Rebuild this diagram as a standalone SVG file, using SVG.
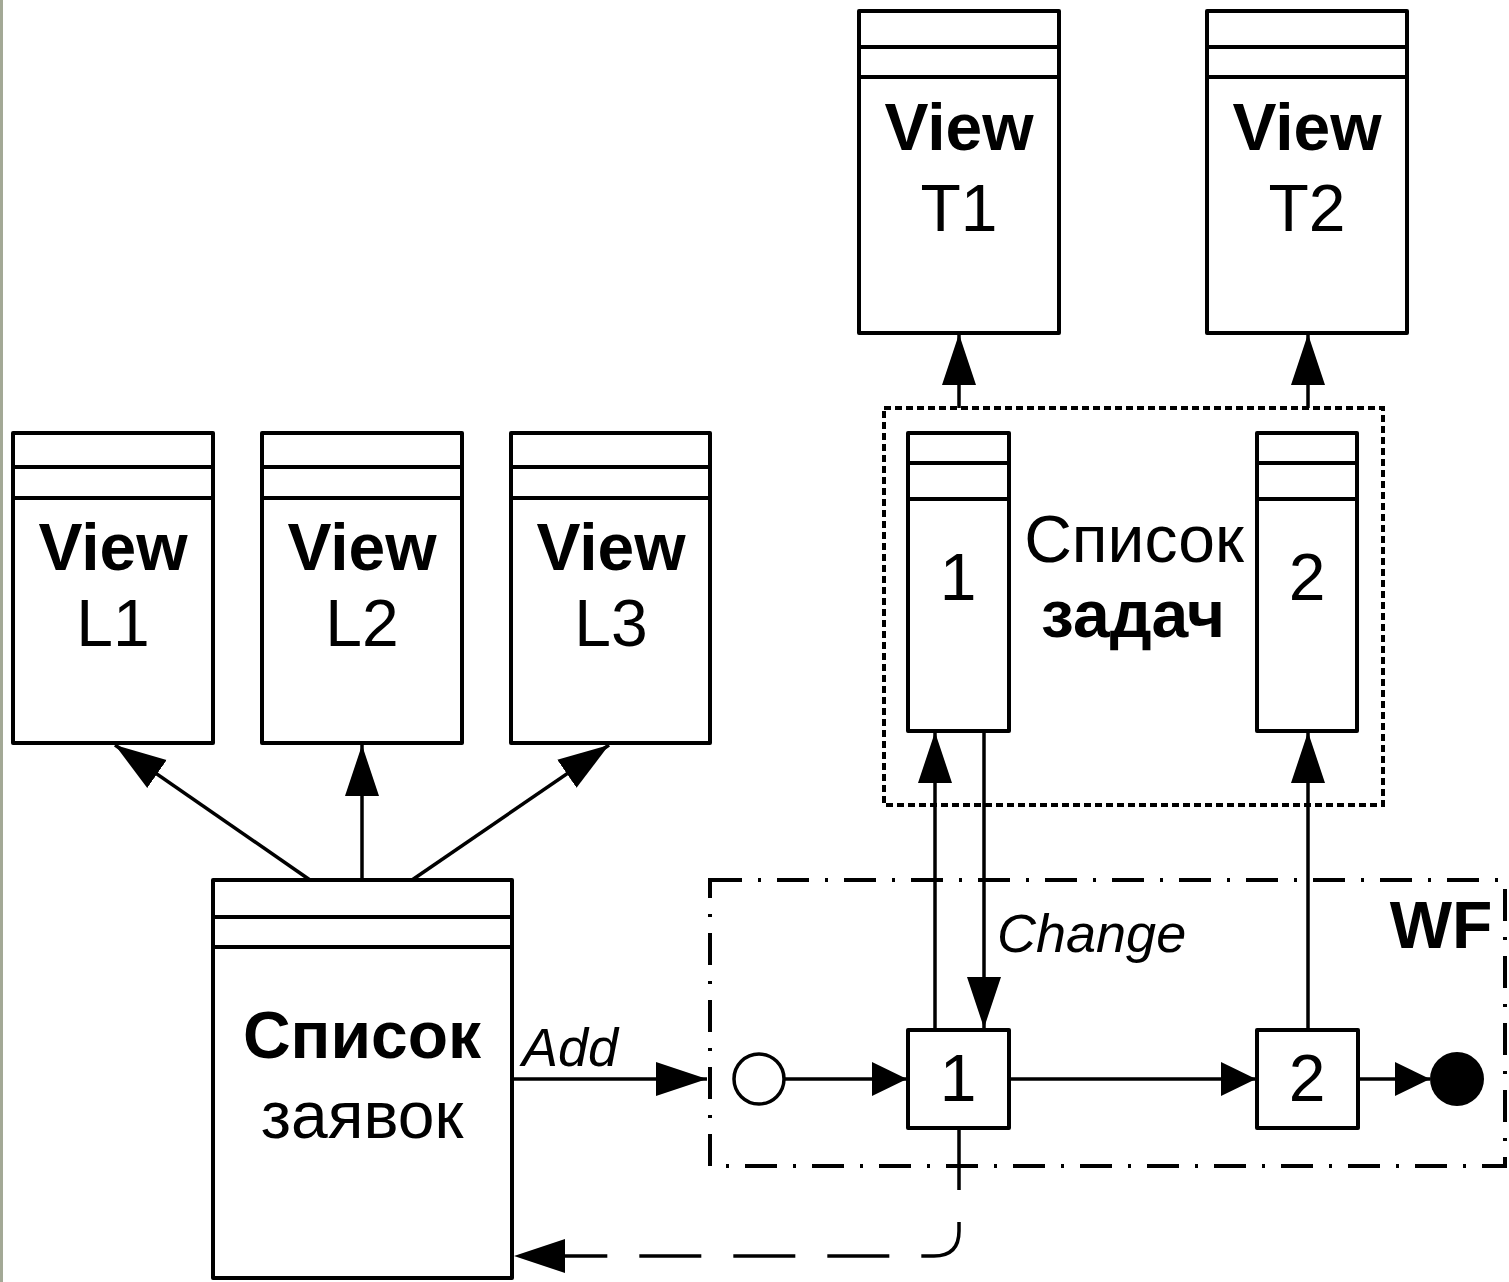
<svg xmlns="http://www.w3.org/2000/svg" width="1509" height="1282" viewBox="0 0 1509 1282">
<defs>
<style>
.box{fill:#fff;stroke:#000;stroke-width:4;stroke-linejoin:round}
.ln{fill:none;stroke:#000;stroke-width:4}
.con{fill:none;stroke:#000;stroke-width:3.5}
.t{font-family:"Liberation Sans",Arial,sans-serif;font-size:66px;fill:#000;text-anchor:middle}
.b{font-weight:bold}
.it{font-family:"Liberation Sans",Arial,sans-serif;font-style:italic;font-size:54px;fill:#000}
</style>
<marker id="big" markerUnits="userSpaceOnUse" markerWidth="52" markerHeight="36" refX="51" refY="17" orient="auto" viewBox="0 0 52 34">
<path d="M0,0 L51,17 L0,34 z" fill="#000"/>
</marker>
<marker id="small" markerUnits="userSpaceOnUse" markerWidth="36" markerHeight="36" refX="35" refY="17" orient="auto" viewBox="0 0 36 34">
<path d="M0,0 L35,17 L0,34 z" fill="#000"/>
</marker>
</defs>
<rect x="0" y="0" width="1509" height="1282" fill="#fff"/>
<rect x="0" y="0" width="3" height="1282" fill="#a3a996"/>

<g id="connectors">
<line class="con" x1="959" y1="408" x2="959" y2="334" marker-end="url(#big)"/>
<line class="con" x1="1308" y1="408" x2="1308" y2="334" marker-end="url(#big)"/>
<line class="con" x1="310" y1="880" x2="115" y2="745" marker-end="url(#big)"/>
<line class="con" x1="362" y1="880" x2="362" y2="745" marker-end="url(#big)"/>
<line class="con" x1="412" y1="880" x2="609" y2="745" marker-end="url(#big)"/>
<line class="con" x1="935" y1="1030" x2="935" y2="732" marker-end="url(#big)"/>
<line class="con" x1="984" y1="731" x2="984" y2="1028" marker-end="url(#big)"/>
<line class="con" x1="1308" y1="1030" x2="1308" y2="732" marker-end="url(#big)"/>
<line class="con" x1="512" y1="1079" x2="707" y2="1079" marker-end="url(#big)"/>
<line class="con" x1="785" y1="1079" x2="907" y2="1079" marker-end="url(#small)"/>
<line class="con" x1="1009" y1="1079" x2="1256" y2="1079" marker-end="url(#small)"/>
<line class="con" x1="1358" y1="1079" x2="1430" y2="1079" marker-end="url(#small)"/>
<path class="con" d="M959,1128 V1231 Q959,1256 934,1256 H514" stroke-dasharray="62 32" marker-end="url(#big)"/>
<text class="it" x="997" y="952">Change</text>
<text class="it" x="522" y="1066">Add</text>
</g>

<g id="view-t1">
<rect class="box" x="859" y="11" width="200" height="322"/>
<line class="ln" x1="859" y1="47" x2="1059" y2="47"/>
<line class="ln" x1="859" y1="77" x2="1059" y2="77"/>
<text class="t b" x="959" y="150">View</text>
<text class="t" x="959" y="231">T1</text>
</g>
<g id="view-t2">
<rect class="box" x="1207" y="11" width="200" height="322"/>
<line class="ln" x1="1207" y1="47" x2="1407" y2="47"/>
<line class="ln" x1="1207" y1="77" x2="1407" y2="77"/>
<text class="t b" x="1307" y="150">View</text>
<text class="t" x="1307" y="231">T2</text>
</g>

<g id="view-l1">
<rect class="box" x="13" y="433" width="200" height="310"/>
<line class="ln" x1="13" y1="467" x2="213" y2="467"/>
<line class="ln" x1="13" y1="498" x2="213" y2="498"/>
<text class="t b" x="113" y="570">View</text>
<text class="t" x="113" y="646">L1</text>
</g>
<g id="view-l2">
<rect class="box" x="262" y="433" width="200" height="310"/>
<line class="ln" x1="262" y1="467" x2="462" y2="467"/>
<line class="ln" x1="262" y1="498" x2="462" y2="498"/>
<text class="t b" x="362" y="570">View</text>
<text class="t" x="362" y="646">L2</text>
</g>
<g id="view-l3">
<rect class="box" x="511" y="433" width="199" height="310"/>
<line class="ln" x1="511" y1="467" x2="710" y2="467"/>
<line class="ln" x1="511" y1="498" x2="710" y2="498"/>
<text class="t b" x="611" y="570">View</text>
<text class="t" x="611" y="646">L3</text>
</g>

<g id="spisok-zayavok">
<rect class="box" x="213" y="880" width="299" height="398"/>
<line class="ln" x1="213" y1="917" x2="512" y2="917"/>
<line class="ln" x1="213" y1="947" x2="512" y2="947"/>
<text class="t b" x="362" y="1058" font-size="64">Список</text>
<text class="t" x="362" y="1138" font-size="64">заявок</text>
</g>

<g id="spisok-zadach">
<rect x="884" y="408" width="499" height="397" fill="none" stroke="#000" stroke-width="4" stroke-dasharray="7 4"/>
<text class="t" x="1134" y="562">Список</text>
<text class="t b" x="1133" y="637">задач</text>
</g>
<g id="task-1">
<rect class="box" x="908" y="433" width="101" height="298"/>
<line class="ln" x1="908" y1="463" x2="1009" y2="463"/>
<line class="ln" x1="908" y1="499" x2="1009" y2="499"/>
<text class="t" x="958" y="600">1</text>
</g>
<g id="task-2">
<rect class="box" x="1257" y="433" width="100" height="298"/>
<line class="ln" x1="1257" y1="463" x2="1357" y2="463"/>
<line class="ln" x1="1257" y1="499" x2="1357" y2="499"/>
<text class="t" x="1307" y="600">2</text>
</g>

<g id="wf">
<rect x="710" y="880" width="795" height="286" fill="none" stroke="#000" stroke-width="4" stroke-dasharray="32 16 3 16"/>
<text class="t b" x="1441" y="948" font-size="64">WF</text>
</g>
<g id="start">
<circle cx="759" cy="1079" r="25" fill="#fff" stroke="#000" stroke-width="3.5"/>
</g>
<g id="wf-1">
<rect class="box" x="908" y="1030" width="101" height="98"/>
<text class="t" x="958" y="1101">1</text>
</g>
<g id="wf-2">
<rect class="box" x="1257" y="1030" width="101" height="98"/>
<text class="t" x="1307" y="1101">2</text>
</g>
<g id="end">
<circle cx="1457" cy="1079" r="27" fill="#000"/>
</g>
</svg>
